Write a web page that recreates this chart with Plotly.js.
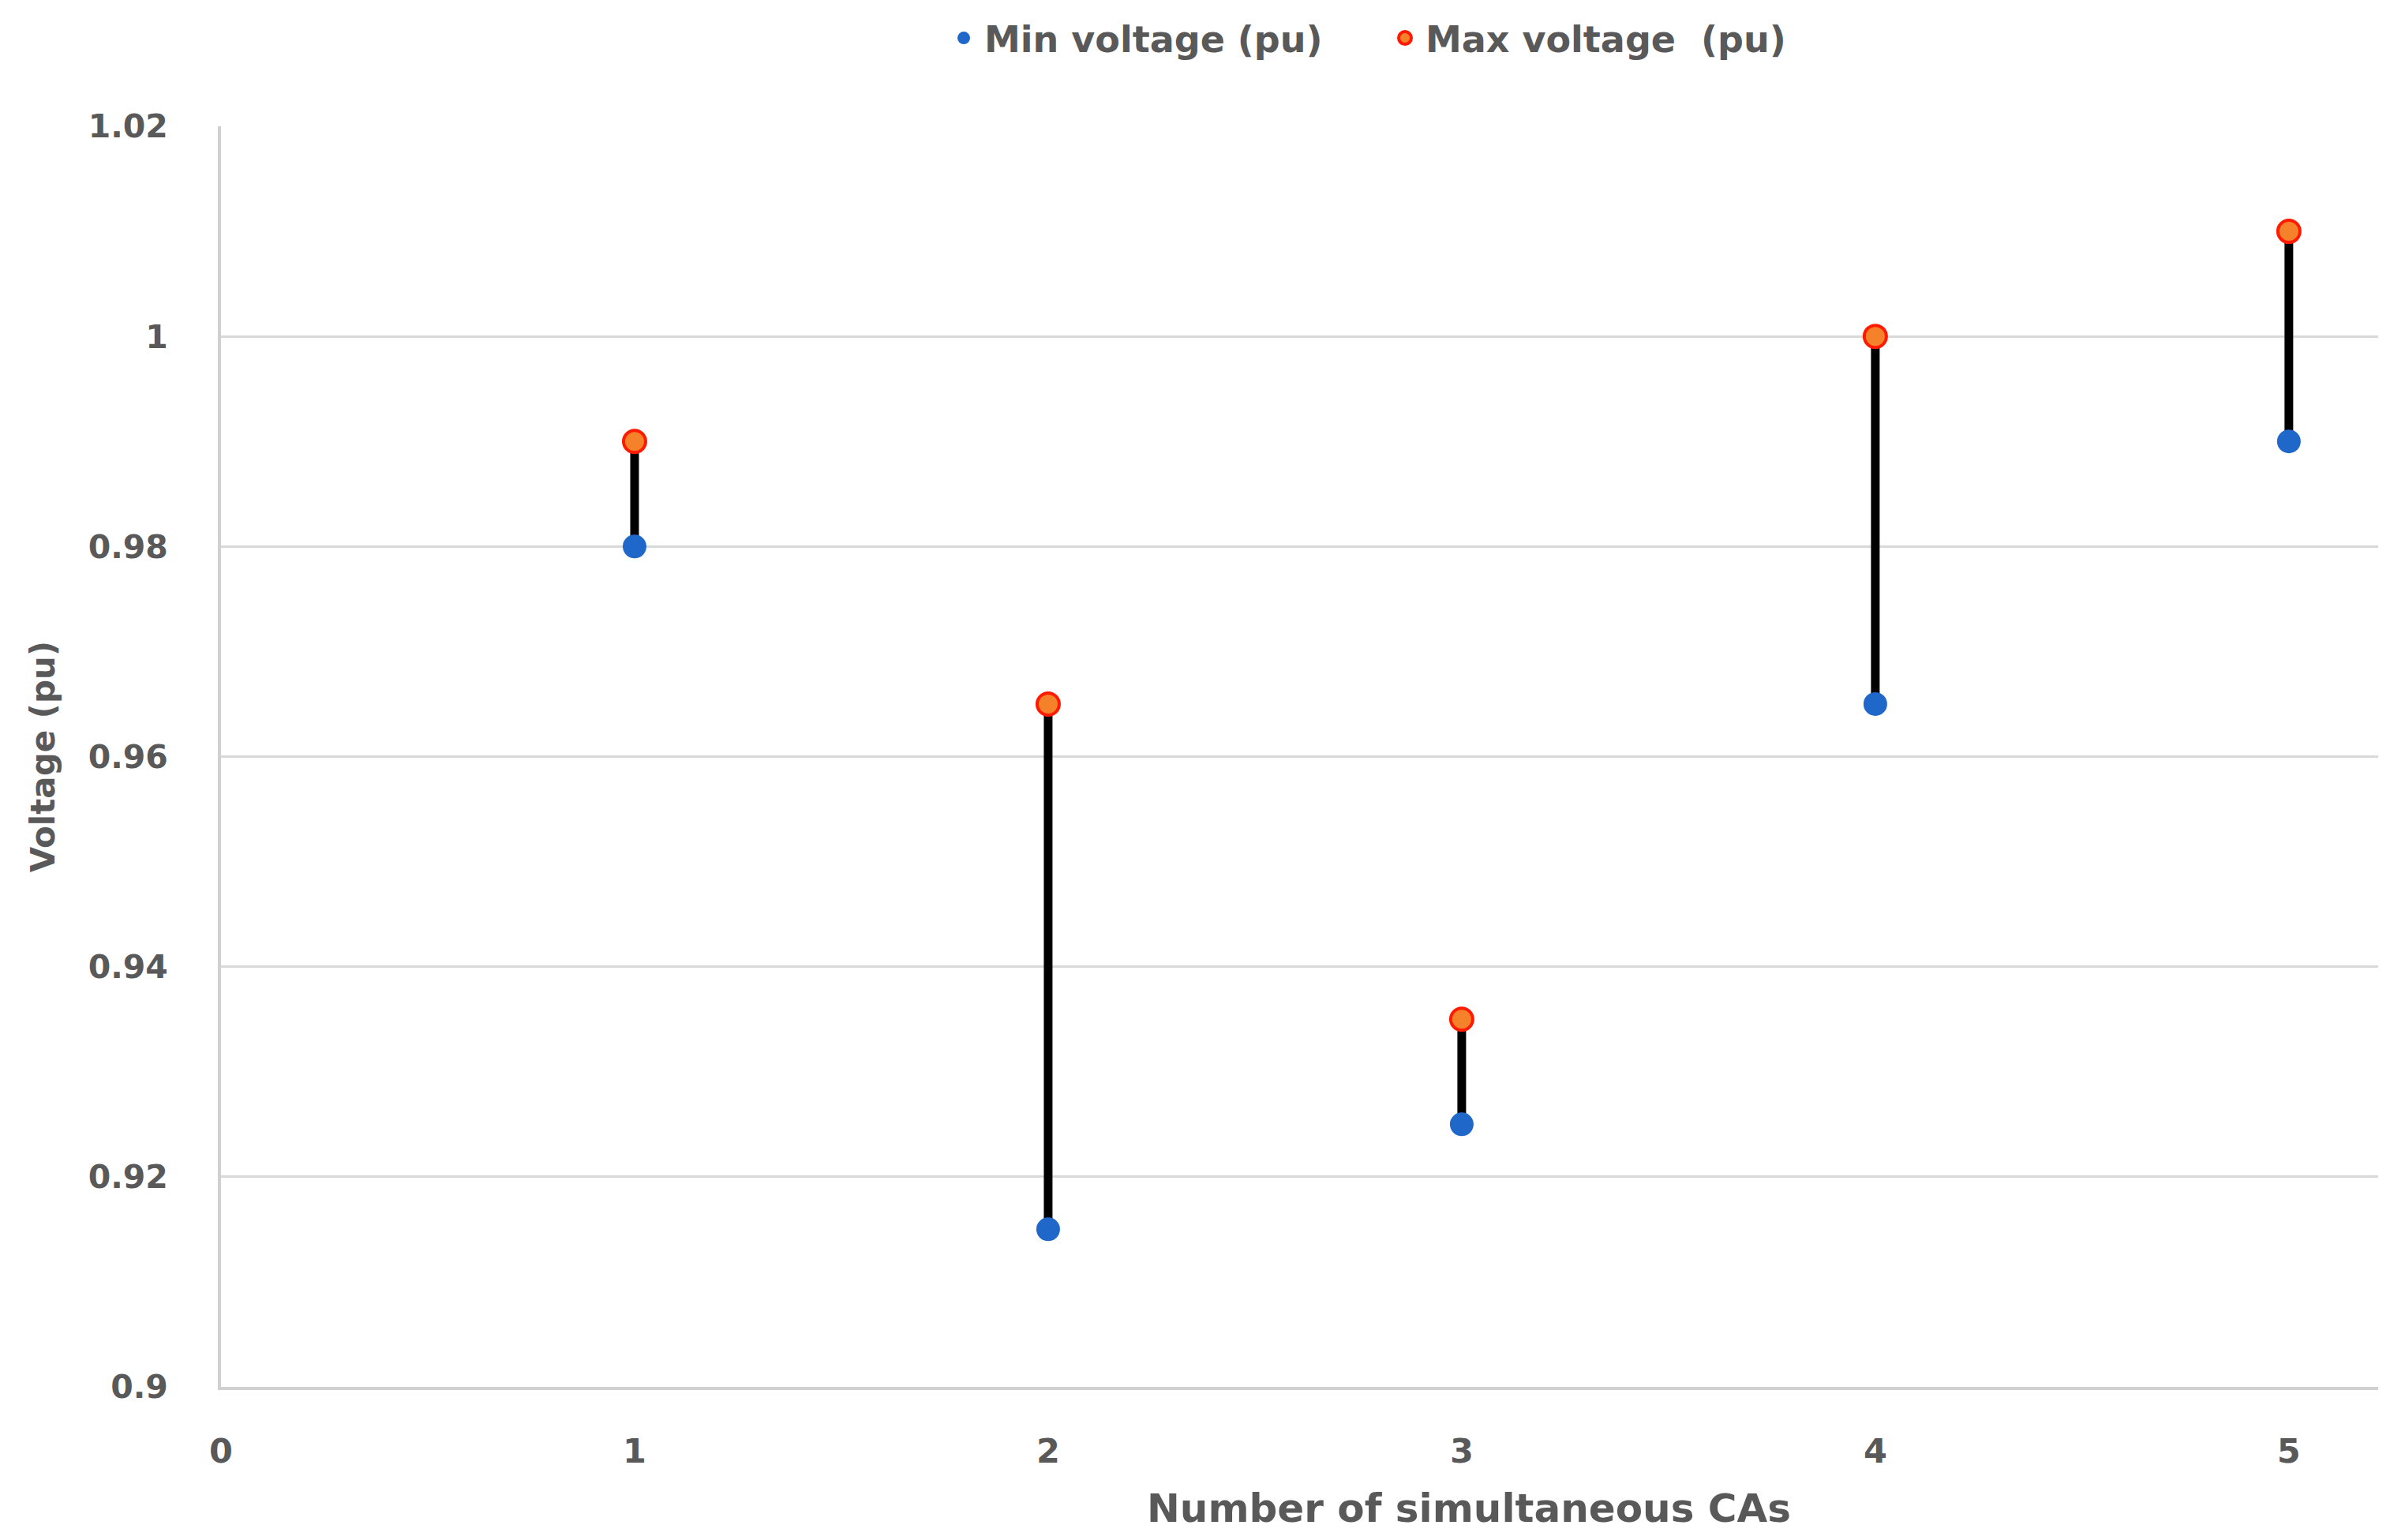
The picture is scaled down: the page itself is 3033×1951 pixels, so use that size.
<!DOCTYPE html>
<html>
<head>
<meta charset="utf-8">
<script src="https://cdn.plot.ly/plotly-3.0.1.min.js"></script>
<style>
html,body{margin:0;padding:0;background:#fff;}
#chart{width:3033px;height:1951px;}
</style>
</head>
<body>
<div id="chart"></div>
<script>
// Data
var caCounts = [1, 2, 3, 4, 5];
var minVoltage = [0.98, 0.915, 0.925, 0.965, 0.99];
var maxVoltage = [0.99, 0.965, 0.935, 1.0, 1.01];
var seriesNames = ['Min voltage (pu)', 'Max voltage  (pu)'];
var xTickVals = [0, 1, 2, 3, 4, 5];
var xTickText = ['0', '1', '2', '3', '4', '5'];
var yTickVals = [0.9, 0.92, 0.94, 0.96, 0.98, 1.0, 1.02];
var yTickText = ['0.9', '0.92', '0.94', '0.96', '0.98', '1', '1.02'];
var xTitle = 'Number of simultaneous CAs';
var yTitle = 'Voltage (pu)';

var spans = caCounts.map(function (_, i) { return maxVoltage[i] - minVoltage[i]; });
var zeros = caCounts.map(function () { return 0; });

var FONT = 'DejaVu Sans, Verdana, sans-serif';
var TXT = '#595959';

var traces = [
  {
    type: 'scatter', mode: 'markers', name: seriesNames[0],
    x: caCounts, y: minVoltage,
    marker: {color: '#1f67c9', size: 30, line: {width: 0}},
    error_y: {type: 'data', symmetric: false, array: spans, arrayminus: zeros,
              color: '#000000', thickness: 11, width: 0},
    hoverinfo: 'x+y'
  },
  {
    type: 'scatter', mode: 'markers', name: seriesNames[1],
    x: caCounts, y: maxVoltage,
    marker: {color: '#f5822a', size: 28, line: {color: '#ff1a00', width: 4}},
    hoverinfo: 'x+y'
  }
];

var layout = {
  width: 3033, height: 1951,
  paper_bgcolor: '#ffffff', plot_bgcolor: '#ffffff',
  margin: {l: 280, r: 20, t: 160, b: 194, pad: 0},
  font: {family: FONT, color: TXT, size: 43, weight: 'bold'},
  showlegend: true,
  legend: {
    orientation: 'h', x: 0.3348, xanchor: 'left', y: 1.07, yanchor: 'middle',
    font: {family: FONT, color: TXT, size: 46, weight: 'bold'},
    entrywidth: 502, itemwidth: 42, itemsizing: 'trace', bgcolor: 'rgba(0,0,0,0)'
  },
  xaxis: {
    range: [0, 5.216], tickmode: 'array', tickvals: xTickVals, ticktext: xTickText,
    showgrid: false, zeroline: false, showline: true, linecolor: '#d0d0d0', linewidth: 4,
    ticks: '', ticklabelstandoff: 40,
    tickfont: {family: FONT, color: TXT, size: 43, weight: 'bold'}
  },
  yaxis: {
    range: [0.9, 1.02], tickmode: 'array', tickvals: yTickVals, ticktext: yTickText,
    showgrid: true, gridcolor: '#d9d9d9', gridwidth: 3,
    zeroline: false, showline: true, linecolor: '#d0d0d0', linewidth: 4,
    ticks: '', ticklabelstandoff: 55,
    tickfont: {family: FONT, color: TXT, size: 41, weight: 'bold'},
    title: {text: yTitle, standoff: 30, font: {family: FONT, color: TXT, size: 42, weight: 'bold'}}
  },
  annotations: [
    {text: xTitle, xref: 'paper', yref: 'paper', x: 0.5785, y: -0.0964,
     xanchor: 'center', yanchor: 'middle', showarrow: false,
     font: {family: FONT, color: TXT, size: 50, weight: 'bold'}}
  ]
};

Plotly.newPlot('chart', traces, layout, {displayModeBar: false, staticPlot: true});
</script>
</body>
</html>
